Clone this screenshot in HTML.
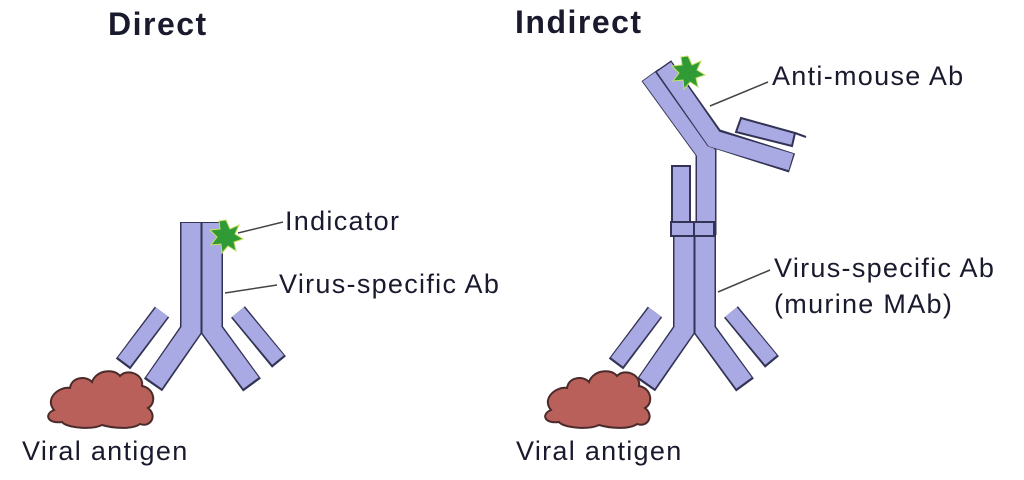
<!DOCTYPE html>
<html><head><meta charset="utf-8"><style>
html,body{margin:0;padding:0;background:#fff;width:1024px;height:480px;overflow:hidden}
svg{display:block}
text{font-family:"Liberation Sans",sans-serif;fill:#1a1a2e}
.l{font-size:27px;letter-spacing:1.3px}
.t{font-size:32px;font-weight:bold;letter-spacing:1.5px}
</style></head><body>
<svg width="1024" height="480" viewBox="0 0 1024 480">
<defs>
<g id="ab">
 <path d="M191,222 L191,330 L153,385" fill="none" stroke="#333355" stroke-width="22" stroke-linejoin="miter"/>
 <path d="M212,222 L212,330 L252,385" fill="none" stroke="#333355" stroke-width="22" stroke-linejoin="miter"/>
 <path d="M191,223 L191,330 L154,383" fill="none" stroke="#a9aae3" stroke-width="19"/>
 <path d="M212,223 L212,330 L251,383" fill="none" stroke="#a9aae3" stroke-width="19"/>
 <line x1="201.5" y1="222" x2="201.5" y2="330" stroke="#333355" stroke-width="2"/>
 <line x1="162" y1="312" x2="123" y2="364" stroke="#333355" stroke-width="18"/>
 <line x1="162" y1="312" x2="124" y2="362" stroke="#a9aae3" stroke-width="15"/>
 <line x1="238" y1="312" x2="279" y2="362" stroke="#333355" stroke-width="18"/>
 <line x1="238" y1="312" x2="278" y2="360" stroke="#a9aae3" stroke-width="15"/>
</g>
<g id="cloud">
 <path d="M-48,12 C-58,0 -42,-12 -32,-10 C-30,-22 -15,-22 -10,-16 C-6,-28 12,-30 18,-22 C25,-30 42,-24 40,-12 C52,-10 55,5 46,10 C56,18 48,30 38,26 C30,32 10,30 0,27 C-10,32 -35,30 -40,24 C-55,26 -58,16 -48,12 Z" fill="#b9605a" stroke="#4a2a2a" stroke-width="2"/>
</g>
<g id="star">
 <polygon points="0,-16 4,-7 13,-11 9,-2 17,3 8,6 10,15 2,10 -4,17 -5,8 -15,9 -9,1 -16,-6 -6,-7 -7,-15" fill="#2f9a36" stroke="#c8e060" stroke-width="1"/>
</g>
</defs>

<text x="108" y="35" class="t">Direct</text>
<text x="515" y="33" class="t">Indirect</text>

<use href="#ab"/>
<use href="#cloud" x="102" y="398"/>
<use href="#star" x="226" y="236"/>
<line x1="238" y1="233" x2="283" y2="222" stroke="#444" stroke-width="1.5"/>
<line x1="225" y1="293" x2="277" y2="285" stroke="#444" stroke-width="1.5"/>
<text x="285" y="230" class="l">Indicator</text>
<text x="279" y="293" class="l">Virus-specific Ab</text>
<text x="22" y="460" class="l">Viral antigen</text>

<use href="#ab" x="493"/>
<use href="#cloud" x="599" y="398"/>
<path d="M650,75 L706,152 L706,235" fill="none" stroke="#333355" stroke-width="21"/>
<path d="M650,76 L706,153 L706,234" fill="none" stroke="#a9aae3" stroke-width="18"/>
<path d="M663,66 L714,138 L792,163" fill="none" stroke="#333355" stroke-width="20"/>
<path d="M664,67 L714,139 L791,162" fill="none" stroke="#a9aae3" stroke-width="17"/>
<rect x="672" y="166" width="18" height="70" fill="#a9aae3" stroke="#333355" stroke-width="2"/>
<polygon points="741,118 795,133 792,146 736,132" fill="#a9aae3" stroke="#333355" stroke-width="2"/>
<line x1="795" y1="133" x2="806" y2="137" stroke="#333355" stroke-width="2"/>
<rect x="671" y="222" width="43" height="14" fill="#a9aae3" stroke="#333355" stroke-width="2"/>
<line x1="694" y1="222" x2="694" y2="236" stroke="#333355" stroke-width="2"/>
<use href="#star" x="688" y="72"/>
<line x1="710" y1="106" x2="768" y2="82" stroke="#444" stroke-width="1.5"/>
<line x1="718" y1="292" x2="770" y2="270" stroke="#444" stroke-width="1.5"/>
<text x="772" y="85" class="l">Anti-mouse Ab</text>
<text x="774" y="277" class="l">Virus-specific Ab</text>
<text x="774" y="313" class="l">(murine MAb)</text>
<text x="516" y="460" class="l">Viral antigen</text>
</svg>
</body></html>
